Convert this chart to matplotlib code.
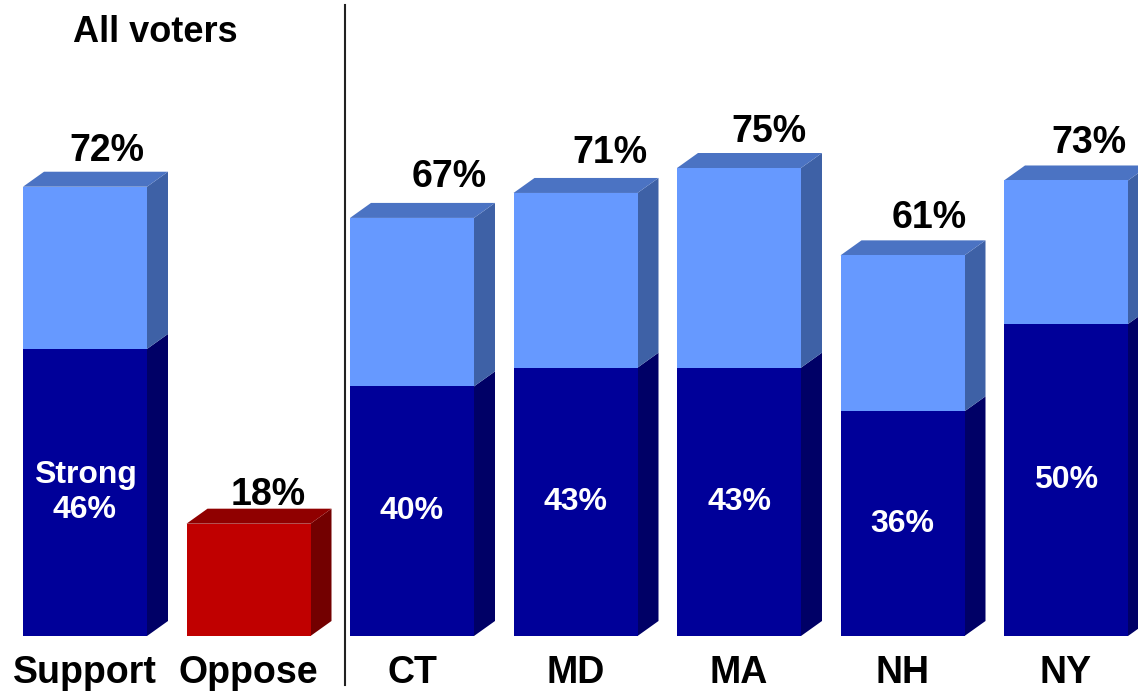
import matplotlib

matplotlib.use("Agg")
import matplotlib.pyplot as plt
from matplotlib.patches import Polygon

# data
categories = ["Support", "Oppose", "CT", "MD", "MA", "NH", "NY"]
totals = [72, 18, 67, 71, 75, 61, 73]
strong = [46, 0, 40, 43, 43, 36, 50]
inner_labels = ["Strong\n46%", "", "40%", "43%", "43%", "36%", "50%"]

# layout (pixels of the 1138x693 picture)
PX_X = 163.5  # pixels per category slot
PX_Y = 6.24  # pixels per percentage point
X0_PX = 85  # centre of first bar
BASE_PX = 636  # baseline, from top
label_dx_px = [22, 20, 37, 34, 30, 27, 23]
label_gap_px = [11, 4, 16, 15, 11, 12, 12]

LIGHT = {"front": "#6699FF", "top": "#4B73C3", "side": "#3E61A6"}
DARK = {"front": "#000099", "top": "#000077", "side": "#000066"}
RED = {"front": "#C00000", "top": "#900000", "side": "#730000"}

W = 124 / PX_X
DX = 21 / PX_X
DY = 15 / PX_Y
FONT = "Liberation Sans"


def px_to_y(py):
    return (BASE_PX - py) / PX_Y


def px_to_x(px):
    return (px - X0_PX) / PX_X


def draw_segment(ax, x, y0, y1, colors, top=False):
    ax.bar(x, y1 - y0, bottom=y0, width=W, color=colors["front"], linewidth=0, zorder=3)
    right = x + W / 2
    side = [(right, y0), (right + DX, y0 + DY), (right + DX, y1 + DY), (right, y1)]
    ax.add_patch(Polygon(side, closed=True, facecolor=colors["side"], edgecolor="none", zorder=2))
    if top:
        left = x - W / 2
        cap = [(left, y1), (right, y1), (right + DX, y1 + DY), (left + DX, y1 + DY)]
        ax.add_patch(Polygon(cap, closed=True, facecolor=colors["top"], edgecolor="none", zorder=2))


fig = plt.figure(figsize=(11.38, 6.93), dpi=100)
ax = fig.add_axes([0, 0, 1, 1])
ax.set_xlim(px_to_x(0), px_to_x(1138))
ax.set_ylim(px_to_y(693), px_to_y(0))
ax.axis("off")

for i, cat in enumerate(categories):
    if cat == "Oppose":
        draw_segment(ax, i, 0, totals[i], RED, top=True)
    else:
        draw_segment(ax, i, 0, strong[i], DARK)
        draw_segment(ax, i, strong[i], totals[i], LIGHT, top=True)
        ax.text(i, strong[i] / 2, inner_labels[i], ha="center", va="center",
                color="white", fontsize=23, fontweight="bold", family=FONT,
                linespacing=1.2, zorder=4)

    ax.text(i + label_dx_px[i] / PX_X, totals[i] + DY + label_gap_px[i] / PX_Y,
            f"{totals[i]}%", ha="center", va="baseline", fontsize=27,
            fontweight="bold", family=FONT, zorder=4)
    ax.text(i, px_to_y(683), cat, ha="center", va="baseline", fontsize=27,
            fontweight="bold", family=FONT)

ax.plot([px_to_x(345)] * 2, [px_to_y(5), px_to_y(685)], color="#222222", linewidth=1.5)
ax.text(px_to_x(155), px_to_y(33), "All voters", ha="center", va="center",
        fontsize=26, fontweight="bold", family=FONT)

fig.savefig("out.png", dpi=100)
plt.close(fig)
